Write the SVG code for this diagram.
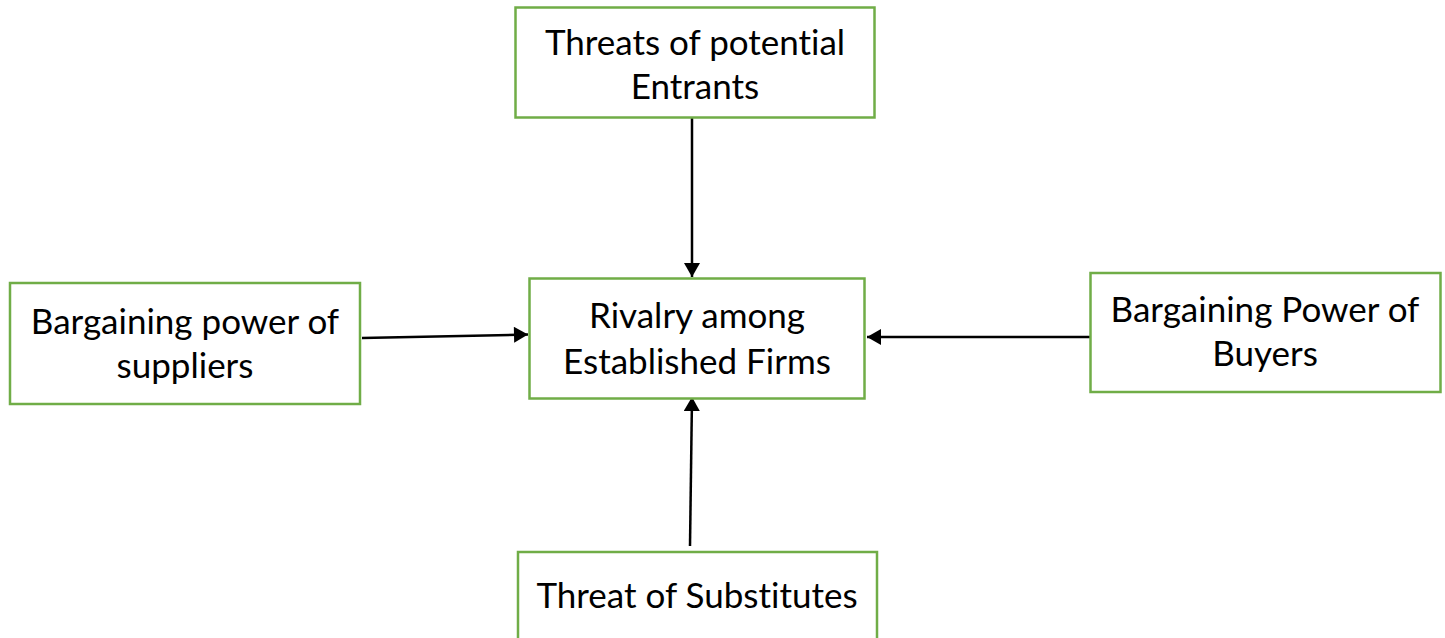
<svg xmlns="http://www.w3.org/2000/svg" width="1445" height="638" viewBox="0 0 1445 638">
  <style>
    .box { fill: #ffffff; stroke: #70ad47; stroke-width: 2.5; }
    .label { font-family: Lato, "Open Sans", "Liberation Sans", sans-serif; font-size: 35px; fill: #000000; text-anchor: middle; font-variant-ligatures: none; }
    .edge { fill: none; stroke: #000000; stroke-width: 2.5; marker-end: url(#arrow); }
  </style>
  <defs>
    <marker id="arrow" markerUnits="userSpaceOnUse" markerWidth="16" markerHeight="16" viewBox="0 0 14 16" refX="14" refY="8" orient="auto">
      <path d="M0,0 L14,8 L0,16 Z" fill="#000000"/>
    </marker>
  </defs>
  <rect width="1445" height="638" fill="#ffffff"/>

  <g id="connectors">
    <line class="edge" x1="692" y1="117" x2="692" y2="277"/>
    <line class="edge" x1="362" y1="338" x2="528" y2="334.5"/>
    <line class="edge" x1="1094" y1="337" x2="867" y2="337"/>
    <line class="edge" x1="690" y1="546" x2="692" y2="397"/>
  </g>

  <g id="node-entrants">
    <rect class="box" x="515.5" y="7.5" width="359" height="110"/>
    <text class="label" x="695" y="55">Threats of potential</text>
    <text class="label" x="695" y="99">Entrants</text>
  </g>

  <g id="node-rivalry">
    <rect class="box" x="529.5" y="278.5" width="335" height="120"/>
    <text class="label" x="697" y="328">Rivalry among</text>
    <text class="label" x="697" y="374">Established Firms</text>
  </g>

  <g id="node-suppliers">
    <rect class="box" x="10" y="283" width="350" height="121"/>
    <text class="label" x="185" y="334">Bargaining power of</text>
    <text class="label" x="185" y="378">suppliers</text>
  </g>

  <g id="node-buyers">
    <rect class="box" x="1090.5" y="273" width="350" height="119"/>
    <text class="label" x="1265" y="322">Bargaining Power of</text>
    <text class="label" x="1265" y="366">Buyers</text>
  </g>

  <g id="node-substitutes">
    <rect class="box" x="518" y="552" width="359" height="100"/>
    <text class="label" x="697" y="608">Threat of Substitutes</text>
  </g>
</svg>
